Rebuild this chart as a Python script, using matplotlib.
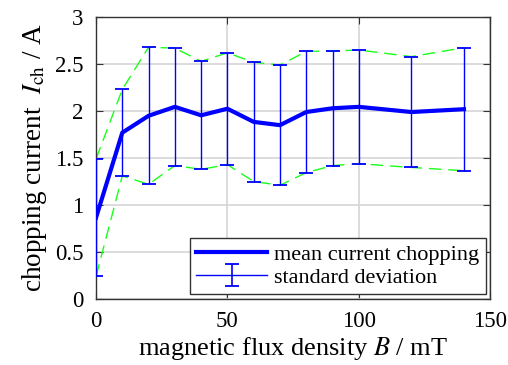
import matplotlib
matplotlib.use("Agg")
import matplotlib.pyplot as plt
import numpy as np

B = [0, 10, 20, 30, 40, 50, 60, 70, 80, 90, 100, 120, 140]
mean_I = [0.865, 1.77, 1.95, 2.045, 1.955, 2.025, 1.885, 1.85, 1.99, 2.03, 2.045, 1.99, 2.02]
std_I = [0.625, 0.46, 0.73, 0.625, 0.575, 0.595, 0.635, 0.64, 0.645, 0.61, 0.605, 0.59, 0.655]

plt.rcParams['font.family'] = ['Liberation Serif', 'DejaVu Serif']
plt.rcParams['mathtext.fontset'] = 'stix'

fig = plt.figure(figsize=(5.08, 3.65), dpi=100)
ax = fig.add_axes([0.189, 0.181, 0.776, 0.772])

m = np.array(mean_I)
s = np.array(std_I)
ax.plot(B, m + s, color=(0.1, 1.0, 0.1), lw=1.0, ls=(0, (9, 5)), zorder=2)
ax.plot(B, m - s, color=(0.1, 1.0, 0.1), lw=1.0, ls=(0, (9, 5)), zorder=2)
ax.errorbar(B, mean_I, yerr=std_I, fmt='none', ecolor='blue', elinewidth=1.0,
            capsize=5, capthick=1.3, zorder=3)
ln, = ax.plot(B, mean_I, color='blue', lw=3, zorder=4)

# legend proxy for the error bar entry (line + bar + caps)
eb_proxy = ax.errorbar([np.nan], [np.nan], yerr=[np.nan], fmt='-', color='blue', lw=1.0,
                       elinewidth=1.2, capsize=5, capthick=1.3)

ax.set_xlim(0, 150)
ax.set_ylim(0, 3)
ax.set_xticks([0, 50, 100, 150])
ax.set_yticks([0, 0.5, 1, 1.5, 2, 2.5, 3])
ax.set_yticklabels(['0', '0.5', '1', '1.5', '2', '2.5', '3'])
ax.grid(True, color='#d6d6d6', lw=1.2)
ax.set_axisbelow(True)
ax.tick_params(direction='in', top=True, right=True, labelsize=16.5, length=5, color='#333333')
ax.tick_params(axis='y', pad=9)
ax.tick_params(axis='x', pad=9)
for sp in ax.spines.values():
    sp.set_color('#333333')
    sp.set_linewidth(1.0)

ax.set_xlabel('magnetic flux density $B$ / mT', fontsize=19, labelpad=2)
ax.set_ylabel('chopping current  $I_\\mathrm{ch}$ / A', fontsize=19.5, labelpad=4)

leg = ax.legend([ln, eb_proxy], ['mean current chopping', 'standard deviation'], loc='lower right',
                fontsize=16, frameon=True, fancybox=False, edgecolor='#333333', framealpha=1,
                borderaxespad=0.2, handlelength=3.2, handletextpad=0.3, labelspacing=0.1,
                borderpad=0.3)
leg.get_frame().set_linewidth(1.0)

fig.savefig('out.png', dpi=100)
